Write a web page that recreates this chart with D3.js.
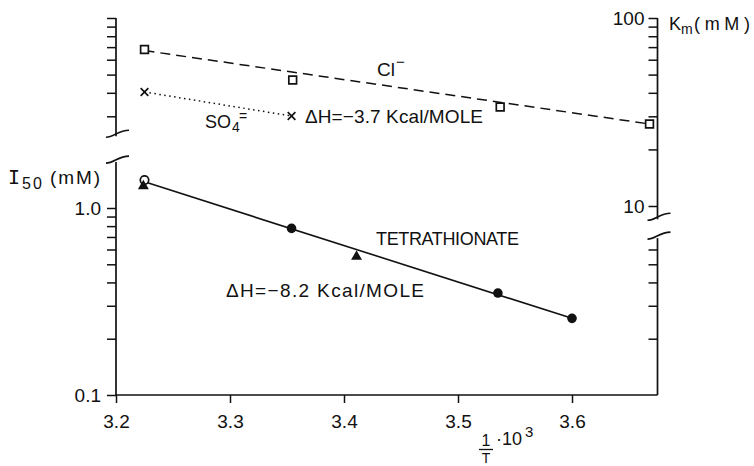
<!DOCTYPE html>
<html><head><meta charset="utf-8">
<script src="https://cdn.jsdelivr.net/npm/d3@7"></script>
<style>
html,body{margin:0;padding:0;background:#fff;}
svg{display:block;}
text{font-family:"Liberation Sans",Arial,sans-serif;fill:#111;}
</style>
</head><body>
<svg id="c" width="754" height="466"></svg>
<script>
// ---- data ----
const clX = [3.225, 3.355, 3.537, 3.668];
const clKm = [68, 46.8, 33.6, 27.3];
const clFitX = [3.225, 3.668];
const clFitKm = [67.1, 27.3];
const so4X = [3.225, 3.354];
const so4Km = [40.4, 30.1];
const tetraX = [3.354, 3.535, 3.600];
const tetraI50 = [0.778, 0.351, 0.257];
const triX = [3.224, 3.411];
const triI50 = [1.31, 0.549];
const openX = [3.225];
const openI50 = [1.41];
const tetraFitX = [3.225, 3.600];
const tetraFitI50 = [1.38, 0.257];
const xTicks = [3.2, 3.3, 3.4, 3.5, 3.6];
const i50TicksLeft = [0.1, 0.2, 0.3, 0.4, 0.5, 0.6, 0.7, 0.8, 0.9, 1.0];
const i50TicksRight = [0.2, 0.3, 0.4, 0.5, 0.6];
const i50Labels = [0.1, 1.0];
const kmTicksLeft = [30, 40, 50, 60, 70, 80, 90, 100];
const kmTicksRight = [10, 20, 30, 40, 50, 60, 70, 80, 90, 100];
const kmLabels = [10, 100];
const xRightEnd = 3.675;
const breaks = {leftUpperKm: 23.5, leftLowerI50: 1.76, rightUpperKm: 8.5, rightLowerI50: 0.69};

// ---- scales ----
const x = d3.scaleLinear().domain([3.2, 3.6]).range([116, 572]);
const yI = d3.scaleLog().domain([0.1, 1]).range([395, 208]);
const yK = d3.scaleLog().domain([10, 100]).range([206, 18]);

const svg = d3.select("#c");
const ink = "#111";
const xL = x(3.2), xR = x(xRightEnd), yB = yI(0.1);

// ---- axis lines ----
function line(x1, y1, x2, y2, w) {
  svg.append("line").attr("x1", x1).attr("y1", y1).attr("x2", x2).attr("y2", y2)
    .attr("stroke", ink).attr("stroke-width", w || 1.7);
}
line(xL, yB, xR, yB);                       // bottom
line(xL, yB, xL, yI(breaks.leftLowerI50));  // left lower
line(xL, yK(100), xL, yK(breaks.leftUpperKm)); // left upper
line(xR, yB, xR, yI(breaks.rightLowerI50)); // right lower
line(xR, yK(100), xR, yK(breaks.rightUpperKm)); // right upper

function brk(px, py) {
  svg.append("path")
    .attr("d", `M${px-10},${py+1} C${px-2},${py+1} ${px+2},${py-6} ${px+13},${py-6}`)
    .attr("fill", "none").attr("stroke", ink).attr("stroke-width", 1.6);
}
brk(xL, yK(breaks.leftUpperKm));
brk(xL, yI(breaks.leftLowerI50));
brk(xR, yK(breaks.rightUpperKm));
brk(xR, yI(breaks.rightLowerI50));

function styleAxis(g, fs) {
  g.select(".domain").remove();
  g.selectAll(".tick line").attr("stroke", ink).attr("stroke-width", 1.5);
  g.selectAll(".tick text").attr("fill", ink)
    .style("font-family", '"Liberation Sans",Arial,sans-serif').style("font-size", fs + "px");
}

svg.append("g").attr("transform", `translate(0,${yB})`)
  .call(d3.axisBottom(x).tickValues(xTicks).tickSize(8).tickPadding(12).tickFormat(d3.format(".1f")))
  .call(g => styleAxis(g, 19));

svg.append("g").attr("transform", `translate(${xL},0)`)
  .call(d3.axisLeft(yI).tickValues(i50TicksLeft).tickSize(9).tickPadding(6)
    .tickFormat(d => i50Labels.some(v => Math.abs(v - d) < 1e-9) ? d3.format(".1f")(d) : ""))
  .call(g => styleAxis(g, 19));

svg.append("g").attr("transform", `translate(${xL},0)`)
  .call(d3.axisLeft(yK).tickValues(kmTicksLeft).tickSize(9).tickFormat(""))
  .call(g => styleAxis(g, 19));

svg.append("g").attr("transform", `translate(${xR},0)`)
  .call(d3.axisLeft(yI).tickValues(i50TicksRight).tickSize(9).tickFormat(""))
  .call(g => styleAxis(g, 19));

svg.append("g").attr("transform", `translate(${xR},0)`)
  .call(d3.axisLeft(yK).tickValues(kmTicksRight).tickSize(9).tickPadding(4)
    .tickFormat(d => kmLabels.includes(d) ? String(d) : ""))
  .call(g => styleAxis(g, 19));

// ---- lines ----
const lnK = d3.line().x(d => x(d[0])).y(d => yK(d[1]));
const lnI = d3.line().x(d => x(d[0])).y(d => yI(d[1]));

svg.append("path").datum(clFitX.map((v, i) => [v, clFitKm[i]])).attr("d", lnK)
  .attr("fill", "none").attr("stroke", ink).attr("stroke-width", 1.5).attr("stroke-dasharray", "10,6");
svg.append("path").datum(so4X.map((v, i) => [v, so4Km[i]])).attr("d", lnK)
  .attr("fill", "none").attr("stroke", ink).attr("stroke-width", 1.5).attr("stroke-dasharray", "1.5,3.5");
svg.append("path").datum(tetraFitX.map((v, i) => [v, tetraFitI50[i]])).attr("d", lnI)
  .attr("fill", "none").attr("stroke", ink).attr("stroke-width", 1.6);

// ---- markers ----
function marks(xs, ys, sc, type, size, fill, stroke) {
  svg.append("g").selectAll("path").data(xs.map((v, i) => [v, ys[i]])).join("path")
    .attr("transform", d => `translate(${x(d[0])},${sc(d[1])})`)
    .attr("d", d3.symbol().type(type).size(size))
    .attr("fill", fill).attr("stroke", stroke).attr("stroke-width", 1.7);
}
marks(clX, clKm, yK, d3.symbolSquare, 60, "#fff", ink);
marks(so4X, so4Km, yK, d3.symbolX, 40, "none", ink);
marks(openX, openI50, yI, d3.symbolCircle, 56, "#fff", ink);
marks(triX, triI50, yI, d3.symbolTriangle, 52, ink, "none");
marks(tetraX, tetraI50, yI, d3.symbolCircle, 72, ink, "none");

// ---- texts ----
function txt(tx, ty, s, fs, opts) {
  const t = svg.append("text").attr("x", tx).attr("y", ty).style("font-size", fs + "px").text(s);
  if (opts && opts.len) t.attr("textLength", opts.len).attr("lengthAdjust", "spacing");
  if (opts && opts.anchor) t.attr("text-anchor", opts.anchor);
  if (opts && opts.family) t.style("font-family", opts.family);
  return t;
}

// I50 (mM)
txt(8, 184, "I", 20, {family: '"DejaVu Sans Mono",monospace'});
txt(22, 189, "50", 16, {len: 20});
txt(50, 184, "(mM)", 19, {len: 50});

// Km (mM)
txt(669, 30, "K", 18);
txt(681, 34, "m", 14);
txt(694, 30, "(mM)", 18, {len: 56});

// Cl-
txt(377, 76, "Cl", 19, {len: 18});
svg.append("text").attr("x", 396).attr("y", 67).style("font-size", "15px").text("\u2212");

// SO4=
txt(205, 128, "SO", 18);
txt(232, 132, "4", 14);
txt(239, 121, "=", 14);

txt(305, 123, "\u0394H=\u22123.7 Kcal/MOLE", 19, {len: 178});
txt(376, 245, "TETRATHIONATE", 18, {len: 143});
txt(226, 297, "\u0394H=\u22128.2 Kcal/MOLE", 19, {len: 198});

// x label: 1/T · 10^3
txt(486, 446, "1", 16, {anchor: "middle"});
line(479, 449.5, 493, 449.5, 1.3);
txt(486, 463, "T", 14, {anchor: "middle"});
txt(496, 445, "\u00b710", 18);
txt(525, 437, "3", 15);
</script>
</body></html>
